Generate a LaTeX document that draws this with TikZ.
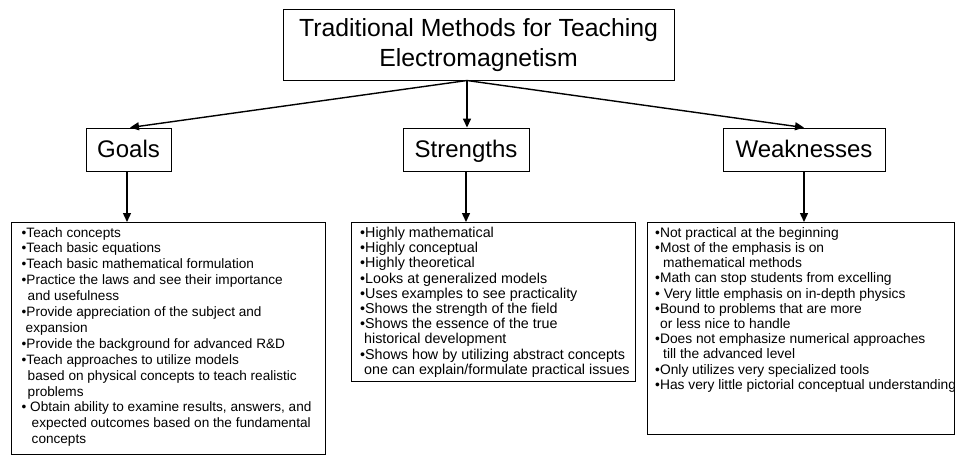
\documentclass[tikz,border=0pt]{standalone}
\usepackage{fontspec}
\setmainfont{Liberation Sans}
\usetikzlibrary{arrows.meta}
\begin{document}
\begin{tikzpicture}[x=1pt,y=-1pt,
  box/.style={draw, line width=0.9pt, inner sep=0pt},
  headbox/.style={box, minimum height=43pt, text height=17pt, text depth=1.5pt,
                  font=\fontsize{24}{29}\selectfont},
  listbox/.style={draw, line width=0.9pt, inner sep=0pt, anchor=north west},
  listtext/.style={align=left, inner sep=0pt, anchor=north west},
  arr/.style={-{Triangle[length=9pt,width=8pt]}, line width=1.4pt}
]
\path[use as bounding box] (0,0) rectangle (956,456);

% top box
\node[box, minimum width=391pt, minimum height=71pt, align=center,
      font=\fontsize{24.8}{30}\selectfont] (top) at (478.5,45)
  {Traditional Methods for Teaching\\Electromagnetism};
\coordinate (ts) at (467,80.5);

% level 2
\node[headbox, minimum width=85pt] (g) at (128.5,149.5) {Goals};
\node[headbox, minimum width=126pt] (s) at (466,149.5) {Strengths};
\node[headbox, minimum width=162pt] (w) at (804,149.5) {Weaknesses};

% list boxes
\node[listbox, minimum width=314pt, minimum height=232pt] (gl) at (11,222) {};
\node[listbox, minimum width=284pt, minimum height=159pt] (sl) at (351,222) {};
\node[listbox, minimum width=307pt, minimum height=212pt] (wl) at (647,222) {};

% list texts
\node[listtext, font=\fontsize{13.6}{15.9}\selectfont] (glt) at ([shift={(10.5,5)}]gl.north west) {%
•Teach concepts\\
•Teach basic equations\\
•Teach basic mathematical formulation\\
•Practice the laws and see their importance\\
\hspace*{6pt}and usefulness\\
•Provide appreciation of the subject and\\
\hspace*{4pt}expansion\\
•Provide the background for advanced R\&D\\
•Teach approaches to utilize models\\
\hspace*{6pt}based on physical concepts to teach realistic\\
\hspace*{6pt}problems\\
• Obtain ability to examine results, answers, and\\
\hspace*{10pt}expected outcomes based on the fundamental\\
\hspace*{10pt}concepts};

\node[listtext, font=\fontsize{14.3}{15.2}\selectfont] (slt) at ([shift={(9,5)}]sl.north west) {%
•Highly mathematical\\
•Highly conceptual\\
•Highly theoretical\\
•Looks at generalized models\\
•Uses examples to see practicality\\
•Shows the strength of the field\\
•Shows the essence of the true\\
\hspace*{4pt}historical development\\
•Shows how by utilizing abstract concepts\\
\hspace*{4pt}one can explain/formulate practical issues};

\node[listtext, font=\fontsize{13.8}{15.2}\selectfont] (wlt) at ([shift={(8,5)}]wl.north west) {%
•Not practical at the beginning\\
•Most of the emphasis is on\\
\hspace*{8pt}mathematical methods\\
•Math can stop students from excelling\\
• Very little emphasis on in-depth physics\\
•Bound to problems that are more\\
\hspace*{5pt}or less nice to handle\\
•Does not emphasize numerical approaches\\
\hspace*{8pt}till the advanced level\\
•Only utilizes very specialized tools\\
•Has very little pictorial conceptual understanding};

% connectors
\draw[arr] (ts) -- ([xshift=1.5pt]g.north);
\draw[arr] (ts) -- (ts |- s.north);
\draw[arr] (ts) -- (w.north);
\draw[arr] ([xshift=-1.5pt]g.south) -- ([xshift=-1.5pt]g.south |- gl.north);
\draw[arr] (s.south) -- (s.south |- sl.north);
\draw[arr] (w.south) -- (w.south |- wl.north);
\end{tikzpicture}
\end{document}
